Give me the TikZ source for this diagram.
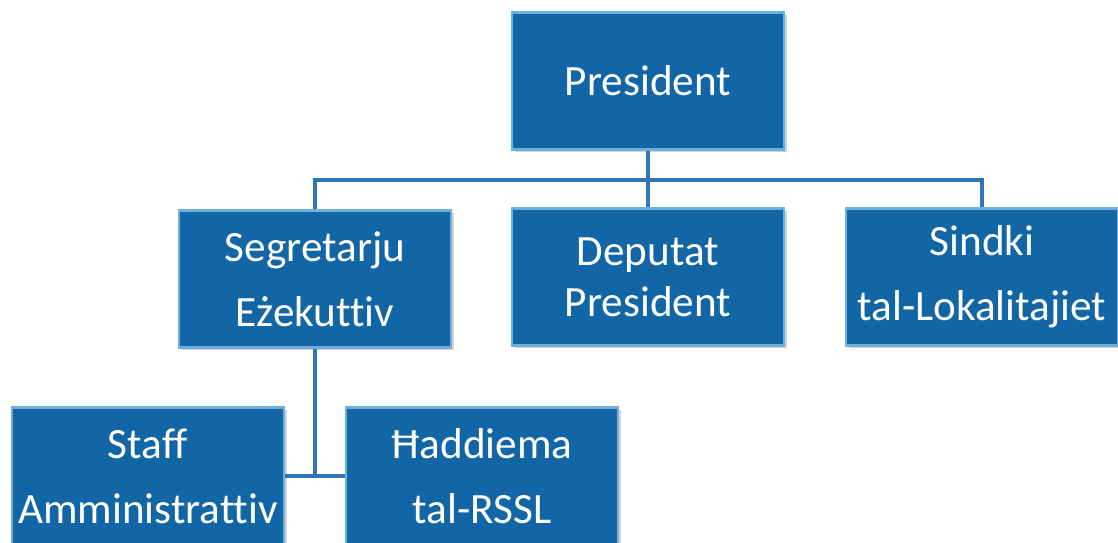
\documentclass[tikz,border=0pt]{standalone}
\usepackage{fontspec}
\setmainfont[Ligatures=NoCommon]{Carlito}
\usepackage{tikz}
\usepackage{xcolor}
\usetikzlibrary{positioning, shadows}

\definecolor{boxblue}{RGB}{18,102,166}
\definecolor{boxedge}{RGB}{110,175,222}
\definecolor{linkblue}{RGB}{46,117,182}

\begin{document}
\begin{tikzpicture}[
            x=0.02cm, y=-0.02cm,
            orgbox/.style={rectangle, fill=boxblue, draw=boxedge, line width=1.2pt,
                minimum width=5.44cm, minimum height=2.74cm, align=center,
                text=white, font=\fontsize{24.6}{37}\selectfont, inner sep=2pt,
                drop shadow={opacity=0.35, shadow xshift=1.5pt, shadow yshift=-1.5pt}},
            link/.style={draw=linkblue, line width=2pt},
        ]
            \useasboundingbox (0,0) rectangle (1118,542);
            % top level
            \node[orgbox] (pres) at (648,81) {President};
            % second level
            \node[orgbox] (seg) at (315,279) {Segretarju\\Eżekuttiv};
            \node[orgbox, font=\fontsize{24.6}{29}\selectfont] (dep) at (648,277) {Deputat\\President};
            \node[orgbox] (sind) at (982,277) {Sindki\\tal-Lokalitajiet};
            % third level
            \node[orgbox] (staff) at (148,476) {Staff\\Amministrattiv};
            \node[orgbox] (hadd) at (482,476) {Ħaddiema\\tal-RSSL};
            % connectors
            \coordinate (bus) at (648,180);
            \draw[link] (pres.south) -- (dep.north);
            \draw[link] (seg.north) |- (bus) -| (sind.north);
            \draw[link] (seg.south) -- (seg.south |- staff.east);
            \draw[link] (staff.east) -- (hadd.west);
        \end{tikzpicture}
\end{document}
